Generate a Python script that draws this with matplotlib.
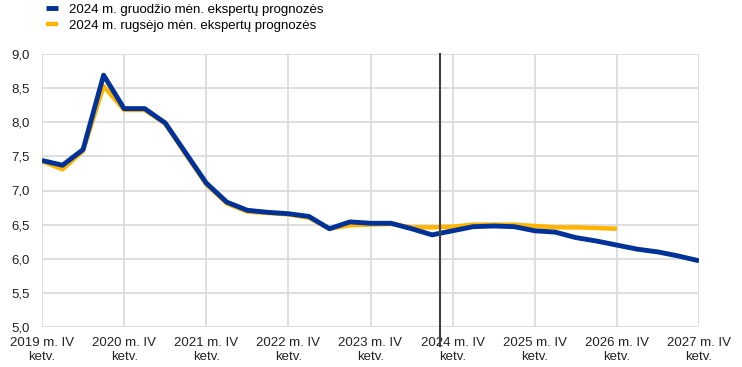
import matplotlib.pyplot as plt
from matplotlib.ticker import FuncFormatter

plt.rcParams['font.family'] = ['Liberation Sans', 'DejaVu Sans']

# quarterly, 2019 Q4 .. 2027 Q4
dec_proj = [7.44, 7.37, 7.60, 8.69, 8.20, 8.20, 7.99, 7.55, 7.11, 6.83, 6.71, 6.68,
            6.66, 6.62, 6.44, 6.54, 6.52, 6.52, 6.44, 6.35, 6.41, 6.47, 6.48, 6.47,
            6.41, 6.39, 6.31, 6.26, 6.20, 6.14, 6.10, 6.04, 5.97]
sep_proj = [7.43, 7.31, 7.58, 8.53, 8.18, 8.18, 7.98, 7.53, 7.09, 6.81, 6.69, 6.67,
            6.65, 6.60, 6.44, 6.49, 6.50, 6.51, 6.46, 6.46, 6.47, 6.50, 6.50, 6.50,
            6.48, 6.46, 6.46, 6.45, 6.44]
years = ['2019', '2020', '2021', '2022', '2023', '2024', '2025', '2026', '2027']
dec_label = '2024 m. gruodžio mėn. ekspertų prognozės'
sep_label = '2024 m. rugsėjo mėn. ekspertų prognozės'
cutoff = 19.4

blue = '#003299'
yellow = '#ffb400'
grid_col = '#d9d9d9'

fig = plt.figure(figsize=(7.42, 3.67), dpi=100)
ax = fig.add_axes([42 / 742, 1 - 327 / 367, 657 / 742, 273 / 367])

ax.plot(range(len(sep_proj)), sep_proj, color=yellow, lw=3.2, label=sep_label,
        solid_capstyle='butt', zorder=3)
ax.plot(range(len(dec_proj)), dec_proj, color=blue, lw=3.5, label=dec_label,
        solid_capstyle='butt', zorder=4)

ax.axvline(cutoff, ymin=-0.07, ymax=1, color='#404040', lw=1.5, clip_on=False, zorder=5)

ax.set_xlim(0, 32)
ax.set_ylim(5.0, 9.0)
ax.set_yticks([5.0 + 0.5 * i for i in range(9)])
ax.yaxis.set_major_formatter(FuncFormatter(lambda v, p: f'{v:.1f}'.replace('.', ',')))
ax.set_xticks(range(0, 33, 4))
ax.set_xticklabels([f'{y} m. IV\nketv.' for y in years], linespacing=1.25)

ax.grid(True, color=grid_col, lw=1.2, zorder=0)
for s in ax.spines.values():
    s.set_visible(False)
ax.tick_params(length=0, labelsize=9.5, colors='#222222')
ax.tick_params(axis='y', pad=9)
ax.tick_params(axis='x', pad=7)

handles, labels = ax.get_legend_handles_labels()
leg = fig.legend(handles[::-1], labels[::-1], loc='upper left', bbox_to_anchor=(0.055, 1.004),
                 frameon=False, fontsize=9.5, handlelength=0.9, handletextpad=0.8,
                 labelspacing=0.25, borderaxespad=0)

fig.savefig('out.png', dpi=100)
